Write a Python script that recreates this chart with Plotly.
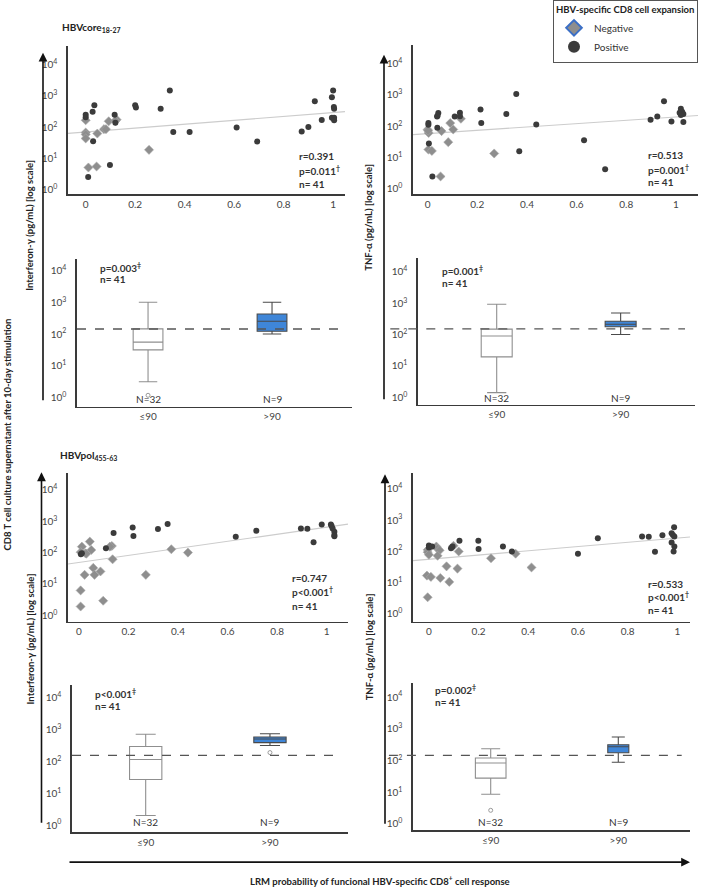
import plotly.graph_objects as go

W, H = 709, 890

# ---------------- tick labels / categories ----------------
scatter_xticks = [0, 0.2, 0.4, 0.6, 0.8, 1]
scatter_xticktext = ["0", "0.2", "0.4", "0.6", "0.8", "1"]
log_tickvals = [1, 10, 100, 1000, 10000]
log_ticktext = ["10<sup>0</sup>", "10<sup>1</sup>", "10<sup>2</sup>", "10<sup>3</sup>", "10<sup>4</sup>"]
box_categories = ["≤90", ">90"]
box_counts = ["N=32", "N=9"]

# ---------------- HBVcore18-27 : Interferon-gamma ----------------
core_ifn_pos_x = [0.0, 0.0, 0.035, 0.028, 0.03, 0.01, 0.098, 0.117, 0.12, 0.20, 0.203, 0.303, 0.34, 0.354,
                  0.42, 0.61, 0.693, 0.873, 0.90, 0.926, 0.954, 0.995, 1.0, 1.003, 1.004, 0.995, 1.004, 1.004]
core_ifn_pos_y = [250, 210, 500, 310, 36, 2.6, 6.2, 250, 140, 500, 430, 390, 1490, 71,
                  71, 98, 35, 73, 102, 670, 170, 900, 1490, 440, 390, 200, 200, 167]
core_ifn_neg_x = [0.0, 0.0, 0.0, 0.0, 0.011, 0.044, 0.047, 0.074, 0.082, 0.093, 0.125, 0.256, 0.12]
core_ifn_neg_y = [167, 68, 59, 44, 5.2, 5.6, 63, 87, 87, 155, 175, 19, 160]
core_ifn_fit = [1.85, 0.62]          # log10 intercept, slope
core_ifn_stats = ["r=0.391", "p=0.011<sup>†</sup>", "n= 41"]

# ---------------- HBVcore18-27 : TNF-alpha ----------------
core_tnf_pos_x = [0.003, 0.003, 0.043, 0.038, 0.039, 0.005, 0.019, 0.109, 0.13, 0.13, 0.213, 0.216, 0.317,
                  0.357, 0.369, 0.4375, 0.63, 0.715, 0.898, 0.925, 0.952, 0.982, 1.02, 1.025, 1.015, 1.03,
                  1.02, 1.03, 0.04]
core_tnf_pos_y = [126, 112, 262, 204, 90, 28, 2.5, 204, 270, 210, 340, 126, 245,
                  1070, 16, 114, 36, 4.2, 162, 204, 630, 142, 360, 290, 270, 245,
                  230, 136, 215]
core_tnf_neg_x = [0.0, 0.004, 0.056, 0.091, 0.103, 0.134, 0.083, 0.003, 0.017, 0.052, 0.268, 0.002]
core_tnf_neg_y = [78, 61, 70, 126, 79, 173, 31, 18, 16.3, 2.5, 13.5, 72]
core_tnf_fit = [1.765, 0.53]
core_tnf_stats = ["r=0.513", "p=0.001<sup>†</sup>", "n= 41"]

# ---------------- HBVpol455-63 : Interferon-gamma ----------------
pol_ifn_pos_x = [0.012, 0.008, 0.109, 0.14, 0.217, 0.22, 0.319, 0.358, 0.633, 0.716, 0.896, 0.922, 0.947,
                 0.98, 1.017, 1.02, 1.024, 1.031, 1.031, 1.031]
pol_ifn_pos_y = [95, 88, 137, 420, 635, 338, 565, 815, 322, 500, 590, 575, 213,
                 795, 795, 705, 590, 465, 363, 330]
pol_ifn_neg_x = [0.012, 0.044, 0.05, 0.007, 0.026, 0.133, 0.125, 0.136, 0.058, 0.023, 0.063, 0.087, 0.27,
                 0.007, 0.098, 0.007, 0.373, 0.44, 0.03]
pol_ifn_neg_y = [155, 224, 121, 103, 95, 163, 155, 61, 32.5, 19.5, 19.5, 25, 19.5,
                 6.2, 2.9, 1.9, 128, 100, 92]
pol_ifn_fit = [1.686, 1.125]
pol_ifn_stats = ["r=0.747", "p<0.001<sup>†</sup>", "n= 41"]

# ---------------- HBVpol455-63 : TNF-alpha ----------------
pol_tnf_pos_x = [0.0, 0.013, 0.0, 0.089, 0.095, 0.123, 0.199, 0.20, 0.298, 0.334, 0.60, 0.68, 0.858,
                 0.885, 0.91, 0.94, 0.977, 0.987, 0.982, 0.988, 0.977, 0.988, 0.985]
pol_tnf_pos_y = [152, 141, 132, 125, 141, 214, 214, 117, 141, 98, 83, 262, 295,
                 288, 96, 325, 377, 590, 333, 295, 190, 141, 98]
pol_tnf_neg_x = [-0.005, -0.005, 0.0, 0.03, 0.035, 0.043, 0.035, 0.099, 0.12, 0.25, 0.349, 0.413, 0.071,
                 0.115, -0.008, 0.008, 0.046, 0.082, -0.005]
pol_tnf_neg_y = [110, 93, 77, 141, 120, 106, 71, 149, 98, 59, 83, 30, 32.5,
                 27.5, 16.4, 14.9, 13.8, 10.3, 3.3]
pol_tnf_fit = [1.74, 0.68]
pol_tnf_stats = ["r=0.533", "p<0.001<sup>†</sup>", "n= 41"]

# ---------------- box plot summaries (≤90, >90) ----------------
core_ifn_q1 = [32, 124]
core_ifn_median = [56, 255]
core_ifn_q3 = [146, 430]
core_ifn_lower = [3.2, 101]
core_ifn_upper = [1000, 1000]
core_ifn_outliers = [[1.2], []]
core_ifn_threshold = 145
core_ifn_box_stats = ["p=0.003<sup>‡</sup>", "n= 41"]

core_tnf_q1 = [19.4, 177]
core_tnf_median = [90, 215]
core_tnf_q3 = [149, 268]
core_tnf_lower = [1.4, 101]
core_tnf_upper = [930, 490]
core_tnf_outliers = [[], []]
core_tnf_threshold = 152
core_tnf_box_stats = ["p=0.001<sup>‡</sup>", "n= 41"]

pol_ifn_q1 = [27, 390]
pol_ifn_median = [115, 510]
pol_ifn_q3 = [295, 590]
pol_ifn_lower = [2.0, 316]
pol_ifn_upper = [720, 740]
pol_ifn_outliers = [[], [190]]
pol_ifn_threshold = 155
pol_ifn_box_stats = ["p<0.001<sup>‡</sup>", "n= 41"]

pol_tnf_q1 = [28, 177]
pol_tnf_median = [84, 273]
pol_tnf_q3 = [120, 315]
pol_tnf_lower = [8.7, 88]
pol_tnf_upper = [236, 550]
pol_tnf_outliers = [[2.7], []]
pol_tnf_threshold = 145
pol_tnf_box_stats = ["p=0.002<sup>‡</sup>", "n= 41"]

# ---------------- styling ----------------
FONT = "Lato, 'Open Sans', 'DejaVu Sans', sans-serif"
AXIS_COLOR = "#3a3a3a"
TICK_FONT = dict(size=10, color="#454545", family=FONT)
POS_COLOR = "#3b3b3b"
NEG_COLOR = "#8e8e8e"
BLUE = "#3f86d8"


def px_x(p):
    return p / W


def px_y(p):
    return 1 - p / H


fig = go.Figure()
axes = {}
annotations = []
shapes = []


def axis_names(idx):
    s = "" if idx == 1 else str(idx)
    return "xaxis" + s, "yaxis" + s, "x" + s, "y" + s


def add_axes(idx, xdom, ydom, xr, yr, xtv, xtt):
    xn, yn, xa, ya = axis_names(idx)
    common = dict(showline=True, linecolor=AXIS_COLOR, linewidth=1.6, ticks="", showgrid=False,
                  zeroline=False, tickfont=TICK_FONT, fixedrange=True)
    axes[xn] = dict(domain=[px_x(xdom[0]), px_x(xdom[1])], range=list(xr), anchor=ya,
                    tickvals=xtv, ticktext=xtt, tickmode="array", **common)
    axes[yn] = dict(domain=[px_y(ydom[1]), px_y(ydom[0])], range=list(yr), type="log", anchor=xa,
                    tickvals=log_tickvals, ticktext=log_ticktext, tickmode="array",
                    ticklabelstandoff=7, **common)
    return xa, ya


scatter_panels = [
    dict(idx=1, xdom=(68, 345), ydom=(43, 192), xr=(-0.0715, 1.048), yr=(-0.127, 4.60),
         px=core_ifn_pos_x, py=core_ifn_pos_y, nx=core_ifn_neg_x, ny=core_ifn_neg_y,
         fit=core_ifn_fit, stats=core_ifn_stats, sx=297, sy=(154, 168, 182)),
    dict(idx=3, xdom=(413, 698), ydom=(42, 192), xr=(-0.059, 1.089), yr=(-0.16, 4.60),
         px=core_tnf_pos_x, py=core_tnf_pos_y, nx=core_tnf_neg_x, ny=core_tnf_neg_y,
         fit=core_tnf_fit, stats=core_tnf_stats, sx=646, sy=(153, 167, 180)),
    dict(idx=5, xdom=(68, 348), ydom=(473, 622), xr=(-0.044, 1.086), yr=(-0.2, 4.53),
         px=pol_ifn_pos_x, py=pol_ifn_pos_y, nx=pol_ifn_neg_x, ny=pol_ifn_neg_y,
         fit=pol_ifn_fit, stats=pol_ifn_stats, sx=290, sy=(578, 592, 606)),
    dict(idx=7, xdom=(413, 690), ydom=(473, 622), xr=(-0.064, 1.051), yr=(-0.26, 4.50),
         px=pol_tnf_pos_x, py=pol_tnf_pos_y, nx=pol_tnf_neg_x, ny=pol_tnf_neg_y,
         fit=pol_tnf_fit, stats=pol_tnf_stats, sx=646, sy=(584, 597, 610)),
]

for p in scatter_panels:
    xa, ya = add_axes(p["idx"], p["xdom"], p["ydom"], p["xr"], p["yr"], scatter_xticks, scatter_xticktext)
    a, b = p["fit"]
    lx = [p["xr"][0], p["xr"][1]]
    fig.add_trace(go.Scatter(x=lx, y=[10 ** (a + b * v) for v in lx], mode="lines",
                             line=dict(color="#cccccc", width=1.2), showlegend=False,
                             hoverinfo="skip", xaxis=xa, yaxis=ya))
    fig.add_trace(go.Scatter(x=p["nx"], y=p["ny"], mode="markers", showlegend=False,
                             marker=dict(symbol="diamond", size=7, color=NEG_COLOR,
                                         line=dict(color="#a9a9a9", width=0.6)),
                             xaxis=xa, yaxis=ya))
    fig.add_trace(go.Scatter(x=p["px"], y=p["py"], mode="markers", showlegend=False,
                             marker=dict(symbol="circle", size=6, color=POS_COLOR, line=dict(width=0)),
                             xaxis=xa, yaxis=ya))
    for txt, yy in zip(p["stats"], p["sy"]):
        annotations.append(dict(text="<b>%s</b>" % txt, x=px_x(p["sx"]), y=px_y(yy), xref="paper",
                                yref="paper", xanchor="left", yanchor="middle", showarrow=False,
                                font=dict(size=10, color="#333", family=FONT)))

box_panels = [
    dict(idx=2, xdom=(77, 352), ydom=(257, 406), xr=(-0.573, 1.645), yr=(-0.28, 4.375),
         q1=core_ifn_q1, med=core_ifn_median, q3=core_ifn_q3, lo=core_ifn_lower, hi=core_ifn_upper,
         out=core_ifn_outliers, thr=core_ifn_threshold, thr_x=(0.0, 0.98), widths=(0.24, 0.24),
         stats=core_ifn_box_stats, sx=98, sy=(266, 278), ny=398),
    dict(idx=4, xdom=(418, 695), ydom=(256, 404), xr=(-0.635, 1.60), yr=(-0.24, 4.46),
         q1=core_tnf_q1, med=core_tnf_median, q3=core_tnf_q3, lo=core_tnf_lower, hi=core_tnf_upper,
         out=core_tnf_outliers, thr=core_tnf_threshold, thr_x=(-0.10, 0.964), widths=(0.25, 0.25),
         stats=core_tnf_box_stats, sx=440, sy=(269, 282), ny=397),
    dict(idx=6, xdom=(72, 348), ydom=(686, 834), xr=(-0.593, 1.628), yr=(-0.23, 4.40),
         q1=pol_ifn_q1, med=pol_ifn_median, q3=pol_ifn_q3, lo=pol_ifn_lower, hi=pol_ifn_upper,
         out=pol_ifn_outliers, thr=pol_ifn_threshold, thr_x=(0.0, 0.97), widths=(0.26, 0.26),
         stats=pol_ifn_box_stats, sx=93, sy=(694, 707), ny=824),
    dict(idx=8, xdom=(413, 690), ydom=(684, 832), xr=(-0.609, 1.562), yr=(-0.2, 4.44),
         q1=pol_tnf_q1, med=pol_tnf_median, q3=pol_tnf_q3, lo=pol_tnf_lower, hi=pol_tnf_upper,
         out=pol_tnf_outliers, thr=pol_tnf_threshold, thr_x=(-0.087, 0.97), widths=(0.24, 0.165),
         stats=pol_tnf_box_stats, sx=433, sy=(690, 703), ny=824),
]

box_fill = ["white", BLUE]
box_line = ["#8f8f8f", "#4a4a4a"]

for p in box_panels:
    xa, ya = add_axes(p["idx"], p["xdom"], p["ydom"], p["xr"], p["yr"], [0, 1], box_categories)
    for i in range(2):
        fig.add_trace(go.Box(x=[i], q1=[p["q1"][i]], median=[p["med"][i]], q3=[p["q3"][i]],
                             lowerfence=[p["lo"][i]], upperfence=[p["hi"][i]], width=p["widths"][i],
                             fillcolor=box_fill[i], line=dict(color=box_line[i], width=1.1),
                             whiskerwidth=0.62, boxpoints=False, showlegend=False,
                             xaxis=xa, yaxis=ya))
        if p["out"][i]:
            fig.add_trace(go.Scatter(x=[i] * len(p["out"][i]), y=p["out"][i], mode="markers",
                                     showlegend=False,
                                     marker=dict(symbol="circle-open", size=4, color="#9a9a9a",
                                                 line=dict(width=1)),
                                     xaxis=xa, yaxis=ya))
        annotations.append(dict(text=box_counts[i], x=i, xref=xa, y=px_y(p["ny"]), yref="paper",
                                xanchor="center", yanchor="middle", showarrow=False,
                                font=dict(size=10, color="#333", family=FONT)))
    shapes.append(dict(type="line", xref=xa + " domain", yref=ya, x0=p["thr_x"][0], x1=p["thr_x"][1],
                       y0=p["thr"], y1=p["thr"],
                       line=dict(color="#555555", width=1.3, dash="dash")))
    for txt, yy in zip(p["stats"], p["sy"]):
        annotations.append(dict(text="<b>%s</b>" % txt, x=px_x(p["sx"]), y=px_y(yy), xref="paper",
                                yref="paper", xanchor="left", yanchor="middle", showarrow=False,
                                font=dict(size=10, color="#333", family=FONT)))

# legend entries
fig.add_trace(go.Scatter(x=[None], y=[None], mode="markers", name="Negative",
                         marker=dict(symbol="diamond", size=9, color=NEG_COLOR,
                                     line=dict(color="#3b6fc6", width=1.6))))
fig.add_trace(go.Scatter(x=[None], y=[None], mode="markers", name="Positive",
                         marker=dict(symbol="circle", size=10, color=POS_COLOR)))

# panel titles
annotations.append(dict(text="<b>HBVcore<sub>18-27</sub></b>", x=px_x(60), y=px_y(25), xref="paper",
                        yref="paper", xanchor="left", yanchor="middle", showarrow=False,
                        font=dict(size=10, color="#222", family=FONT)))
annotations.append(dict(text="<b>HBVpol<sub>455-63</sub></b>", x=px_x(58), y=px_y(455), xref="paper",
                        yref="paper", xanchor="left", yanchor="middle", showarrow=False,
                        font=dict(size=10, color="#222", family=FONT)))

# rotated axis titles
for txt, xx, yy in [("Interferon-γ (pg/mL) [log scale]", 30, 224),
                    ("Interferon-γ (pg/mL) [log scale]", 30, 640),
                    ("TNF-α (pg/mL) [log scale]", 369, 216),
                    ("TNF-α (pg/mL) [log scale]", 369, 648),
                    ("CD8 T cell culture supernatant after 10-day stimulation", 8, 434)]:
    annotations.append(dict(text="<b>%s</b>" % txt, x=px_x(xx), y=px_y(yy), xref="paper", yref="paper",
                            xanchor="center", yanchor="middle", textangle=-90, showarrow=False,
                            font=dict(size=9.5, color="#222", family=FONT)))

annotations.append(dict(text="<b>LRM probability of funcional HBV-specific CD8<sup>+</sup> cell response</b>",
                        x=px_x(380), y=px_y(882), xref="paper", yref="paper", xanchor="center",
                        yanchor="middle", showarrow=False, font=dict(size=9.5, color="#222", family=FONT)))

# arrows (head position, tail offset in pixels)
for hx, hy, ax, ay in [(43, 50, 0, 349), (384, 52, 0, 346), (41.5, 472, 0, 352), (385, 474, 0, 351),
                       (690, 864, -622, 0)]:
    annotations.append(dict(text="", x=px_x(hx), y=px_y(hy), xref="paper", yref="paper",
                            ax=ax, ay=ay, axref="pixel", ayref="pixel", showarrow=True,
                            arrowhead=2, arrowsize=1.1, arrowwidth=1.6, arrowcolor="#111"))

fig.update_layout(
    width=W, height=H, autosize=False,
    margin=dict(l=0, r=0, t=0, b=0),
    paper_bgcolor="white", plot_bgcolor="white",
    font=dict(family=FONT, size=10, color="#333"),
    showlegend=True,
    legend=dict(x=px_x(553), y=1.0 + 3 / H, xanchor="left", yanchor="top", bgcolor="white",
                bordercolor="#555", borderwidth=1, font=dict(size=10, color="#333", family=FONT),
                title=dict(text="<b>HBV-specific CD8 cell expansion</b>", side="top",
                           font=dict(size=9.5, color="#222", family=FONT)),
                tracegroupgap=0, itemsizing="constant"),
    annotations=annotations,
    shapes=shapes,
    **axes,
)

fig.write_html("out.html", config={"displayModeBar": False, "staticPlot": True},
               post_script="document.body.style.margin='0';document.body.style.overflow='hidden';")
